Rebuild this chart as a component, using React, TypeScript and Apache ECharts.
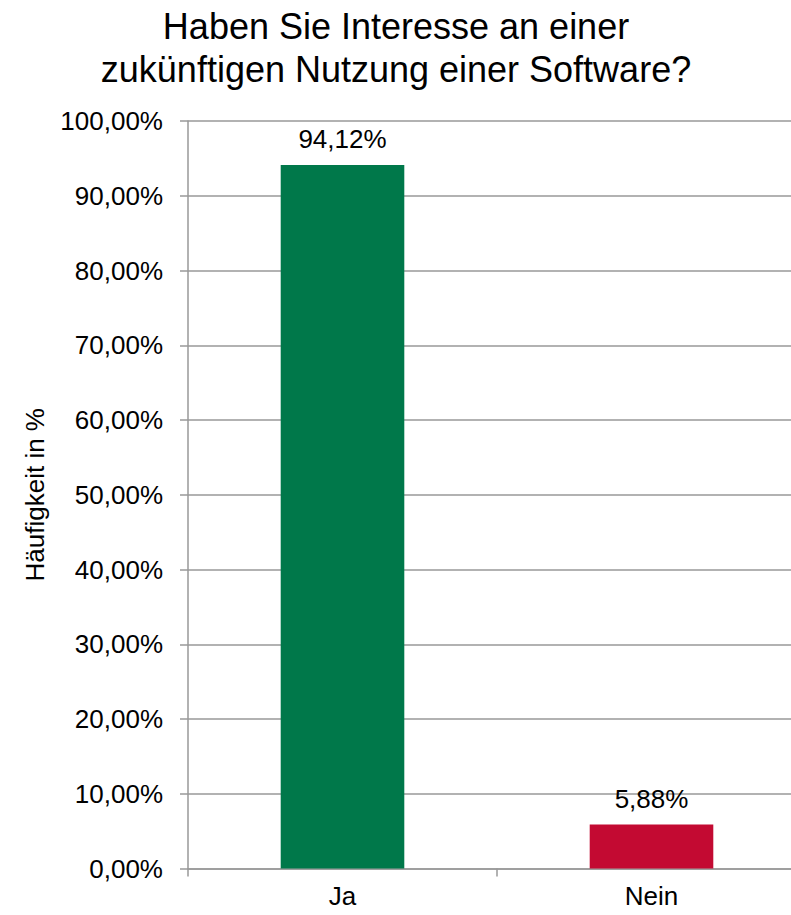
import React, { useEffect, useRef } from "react";
import * as echarts from "echarts";

const titleLines = ["Haben Sie Interesse an einer", "zukünftigen Nutzung einer Software?"];
const categories = ["Ja", "Nein"];
const values = [94.12, 5.88];
const barColors = ["#00784A", "#C30A32"];
const yAxisName = "Häufigkeit in %";
const yMin = 0;
const yMax = 100;
const yInterval = 10;

const fmt = (v: number) => v.toFixed(2).replace(".", ",") + "%";

export default function App() {
  const ref = useRef<HTMLDivElement>(null);
  useEffect(() => {
    if (!ref.current) return;
    const chart = echarts.init(ref.current, undefined, { renderer: "svg" });
    const font = "'Liberation Sans', Arial, sans-serif";
    const lineColor = "#999999";
    chart.setOption({
      animation: false,
      backgroundColor: "#ffffff",
      textStyle: { fontFamily: font },
      title: {
        text: titleLines.join("\n"),
        left: 391,
        textAlign: "center",
        top: 0,
        textStyle: { fontFamily: font, fontSize: 36, fontWeight: "normal", color: "#000", lineHeight: 43 },
      },
      grid: { left: 188, right: 24, top: 121, bottom: 46.5, containLabel: false, outerBoundsMode: "none" },
      xAxis: {
        type: "category",
        data: categories,
        axisLine: { show: true, lineStyle: { color: lineColor, width: 1.5 } },
        axisTick: { show: true, length: 8, lineStyle: { color: lineColor, width: 1.5 } },
        axisLabel: { color: "#000", fontSize: 26, fontFamily: font, margin: 14 },
      },
      yAxis: {
        type: "value",
        min: yMin,
        max: yMax,
        interval: yInterval,
        name: yAxisName,
        nameLocation: "middle",
        nameRotate: 90,
        nameGap: 140,
        nameTextStyle: { color: "#000", fontSize: 26, fontFamily: font },
        axisLine: { show: true, lineStyle: { color: lineColor, width: 1.5 } },
        axisTick: { show: true, length: 8, lineStyle: { color: lineColor, width: 1.5 } },
        splitLine: { show: true, lineStyle: { color: lineColor, width: 1.5 } },
        axisLabel: { color: "#000", fontSize: 26, fontFamily: font, margin: 25, formatter: (v: number) => fmt(v) },
      },
      series: [
        {
          type: "bar",
          barWidth: "40%",
          data: values.map((v, i) => ({ value: v, itemStyle: { color: barColors[i] } })),
          label: {
            show: true,
            position: "top",
            distance: 13,
            color: "#000",
            fontSize: 26,
            fontFamily: font,
            formatter: (p: any) => fmt(p.value),
          },
        },
      ],
    });
    return () => chart.dispose();
  }, []);
  return (
    <div style={{ position: "absolute", left: 0, top: 0, width: 791, height: 915, overflow: "hidden" }}>
      <div ref={ref} style={{ width: 830, height: 915 }} />
    </div>
  );
}
